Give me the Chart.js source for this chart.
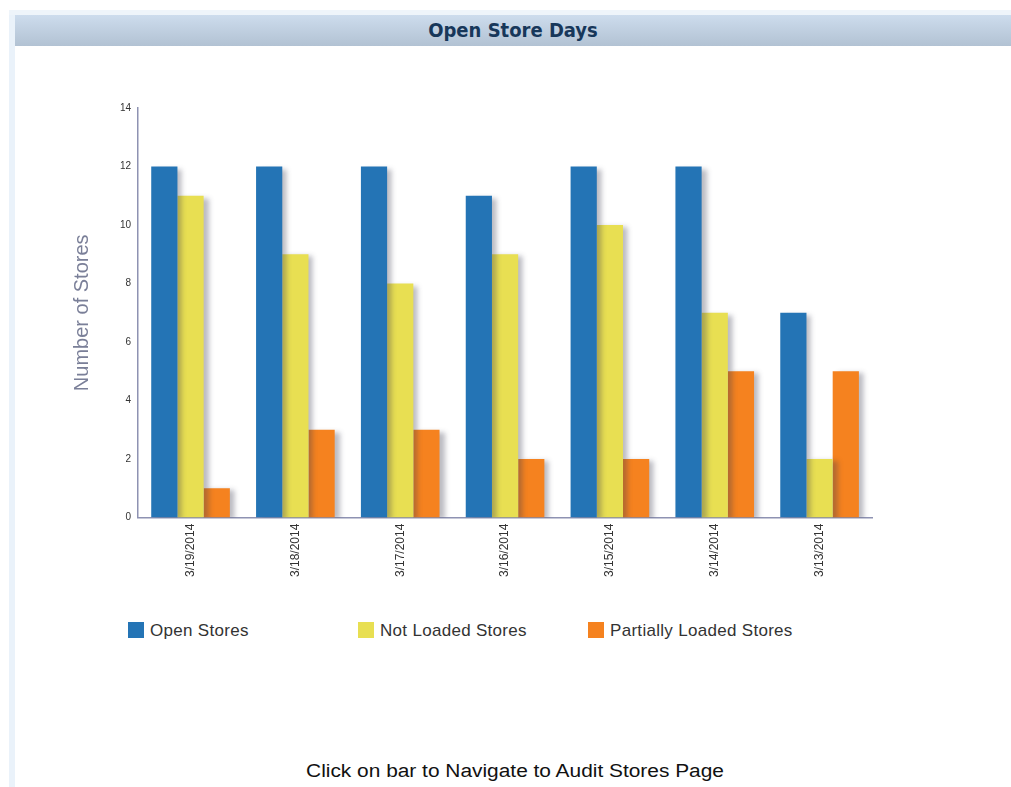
<!DOCTYPE html>
<html>
<head>
<meta charset="utf-8">
<script src="https://cdn.jsdelivr.net/npm/chart.js@4/dist/chart.umd.min.js"></script>
<style>
  body { margin:0; background:#fff; width:1011px; height:787px; overflow:hidden; position:relative; font-family:"Liberation Sans", Arial, sans-serif; }
  #edge { position:absolute; left:9px; top:10px; width:6px; height:777px; background:#eaf2fa; }
  #topline { position:absolute; left:9px; top:10px; width:1002px; height:5px; background:#eef4fa; }
  #banner { position:absolute; left:15px; top:15px; width:996px; height:31px;
    background:linear-gradient(#cddced, #b2c2d3); text-align:center; line-height:31px;
    font-family:"DejaVu Sans Condensed", "DejaVu Sans", sans-serif; font-weight:bold; font-size:20px; color:#17375a; }
  #wrap { position:absolute; left:70px; top:95px; width:820px; height:488px; }
  #legend { position:absolute; left:128px; top:622px; height:20px; }
  .item { position:absolute; top:0; white-space:nowrap; font-size:17px; letter-spacing:0.3px; color:#333; line-height:18px; }
  .box { display:inline-block; width:16px; height:16px; vertical-align:-2px; margin-right:6px; }
  #foot { position:absolute; left:0; width:1030px; top:761px; text-align:center; font-size:18px; color:#111; transform:scaleX(1.16); transform-origin:515px 0; }
</style>
</head>
<body>
<div id="edge"></div>
<div id="topline"></div>
<div id="banner">Open Store Days</div>
<div id="wrap"><canvas id="myChart"></canvas></div>
<div id="legend"></div>
<div id="foot">Click on bar to Navigate to Audit Stores Page</div>
<script>
var dates = ["3/19/2014", "3/18/2014", "3/17/2014", "3/16/2014", "3/15/2014", "3/14/2014", "3/13/2014"];
var openStores = [12, 12, 12, 11, 12, 12, 7];
var notLoaded = [11, 9, 8, 9, 10, 7, 2];
var partLoaded = [1, 3, 3, 2, 2, 5, 5];
var seriesNames = ["Open Stores", "Not Loaded Stores", "Partially Loaded Stores"];
var seriesColors = ["#2474b5", "#e8df52", "#f5821f"];

// bar drop shadow
var shadow = {
  id: 'shadow',
  beforeDatasetsDraw: function(chart) {
    var c = chart.ctx;
    c.save();
    c.shadowColor = 'rgba(60,60,80,0.35)';
    c.shadowOffsetX = 5;
    c.shadowOffsetY = 2;
    c.shadowBlur = 5;
  },
  afterDatasetsDraw: function(chart) { chart.ctx.restore(); }
};

var allData = [openStores, notLoaded, partLoaded];
var ds = [];
for (var i = 0; i < 3; i++) {
  ds.push({ label: seriesNames[i], data: allData[i], backgroundColor: seriesColors[i], borderWidth: 0 });
}

var ctx = document.getElementById('myChart');
new Chart(ctx, {
  type: 'bar',
  data: { labels: dates, datasets: ds },
  plugins: [shadow],
  options: {
    responsive: true,
    maintainAspectRatio: false,
    animation: false,
    categoryPercentage: 0.75,
    barPercentage: 1.0,
    layout: { padding: { top: 0, right: 18 } },
    plugins: { legend: { display: false }, tooltip: { enabled: false } },
    scales: {
      x: {
        grid: { display: false, drawTicks: false },
        border: { color: '#8e92b2', width: 1.5 },
        ticks: { maxRotation: 90, minRotation: 90, color: '#333', font: { size: 12, family: 'Liberation Sans' }, padding: 6 }
      },
      y: {
        min: 0, max: 14,
        grid: { display: false, drawTicks: false },
        border: { color: '#8e92b2', width: 1.5 },
        ticks: { stepSize: 2, color: '#333', font: { size: 10, family: 'Liberation Sans' }, padding: 7 },
        title: { display: true, text: 'Number of Stores', color: '#7a7f98', font: { size: 20, family: 'Liberation Sans' }, padding: { top: 0, bottom: 19 } }
      }
    }
  }
});

var leg = document.getElementById('legend');
for (var k = 0; k < 3; k++) {
  var it = document.createElement('div');
  it.className = 'item';
  it.style.left = (k * 230) + 'px';
  it.innerHTML = '<span class="box" style="background:' + seriesColors[k] + '"></span>' + seriesNames[k];
  leg.appendChild(it);
}
</script>
</body>
</html>
